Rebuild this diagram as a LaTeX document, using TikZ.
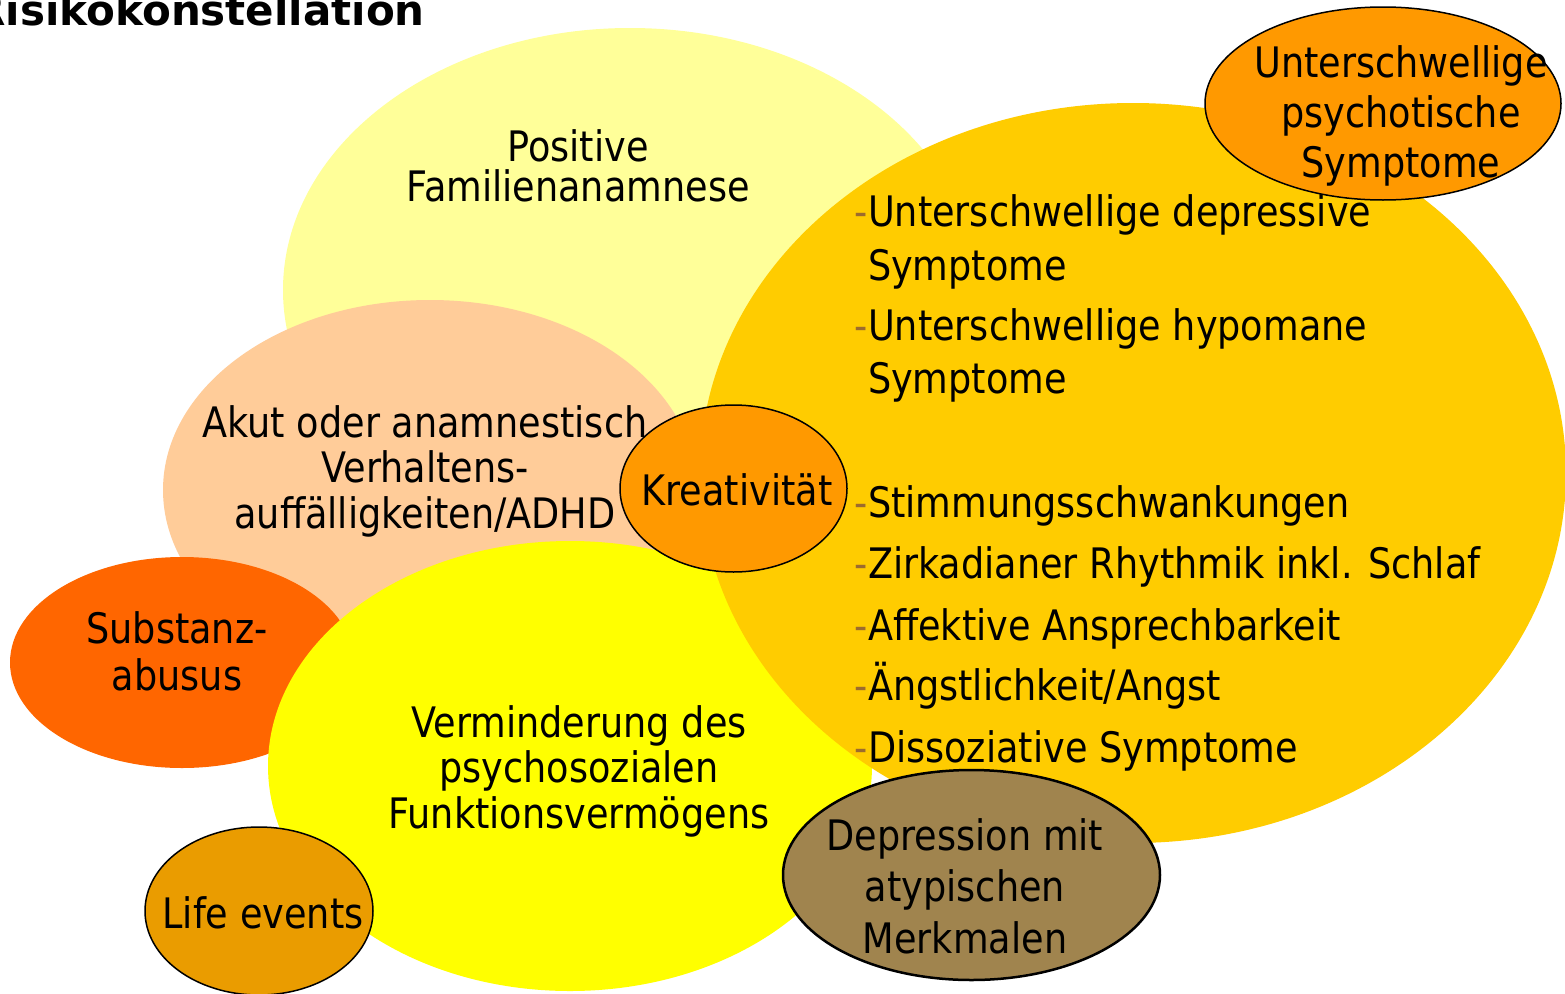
\documentclass[tikz,border=0pt]{standalone}
\usepackage{fontspec}
\setmainfont{DejaVu Sans}[FakeStretch=0.872]
\newfontfamily\titlefont{DejaVu Sans}[FakeStretch=1.0]
\usetikzlibrary{shapes.geometric}
\definecolor{paleyellow}{HTML}{FFFF99}
\definecolor{peach}{HTML}{FFCC99}
\definecolor{gold}{HTML}{FFCC00}
\definecolor{orangeA}{HTML}{FF9900}
\definecolor{substanz}{HTML}{FF6600}
\definecolor{brightyellow}{HTML}{FFFF00}
\definecolor{depbrown}{HTML}{A0844E}
\definecolor{lifeorange}{HTML}{EA9C00}
\definecolor{dashbrown}{HTML}{9C6B2E}
\begin{document}
\begin{tikzpicture}[x=1pt,y=-1pt,
  blob/.style={ellipse, inner sep=0pt, outer sep=0pt},
  edged/.style={blob, draw=black, line width=1.5pt},
  txt/.style={inner sep=0pt, outer sep=0pt, align=center, anchor=base, text=black,
              font=\fontsize{42}{45.5}\selectfont},
  listtxt/.style={inner sep=0pt, outer sep=0pt, align=left, anchor=base west, text=black,
              font=\fontsize{42}{53.5}\selectfont},
  dashtxt/.style={inner sep=0pt, outer sep=0pt, anchor=base east, text=dashbrown,
              font=\fontsize{42}{53.5}\selectfont}]
\useasboundingbox (0,0) rectangle (1565,993);
\fill[white] (0,0) rectangle (1565,993);

% shapes, back to front
\node[blob, fill=paleyellow, minimum width=694pt, minimum height=524pt] (famE) at (630,290) {};
\node[blob, fill=peach, minimum width=534pt, minimum height=380pt] (akutE) at (430,490) {};
\node[blob, fill=substanz, minimum width=344pt, minimum height=211pt] (subE) at (182,662.5) {};
\node[blob, fill=brightyellow, minimum width=604pt, minimum height=450pt] (verE) at (570,766) {};
\node[blob, fill=gold, minimum width=866pt, minimum height=740pt] (goldE) at (1133,473) {};
\node[edged, fill=orangeA, minimum width=227pt, minimum height=167pt] (kreaE) at (733.5,488.5) {};
\node[edged, fill=orangeA, minimum width=356pt, minimum height=193pt] (psyE) at (1383,103.5) {};
\node[blob, draw=black, line width=2.5pt, fill=depbrown, minimum width=377pt, minimum height=210pt] (depE) at (971.5,875) {};
\node[edged, fill=lifeorange, minimum width=228pt, minimum height=168pt] (lifeE) at (259,911) {};

% title
\node[inner sep=0pt, anchor=base east, font=\titlefont\bfseries\fontsize{42}{48}\selectfont] (title) at (425,25) {Risikokonstellation};

% texts (anchor base = baseline of the last line)
\node[txt, font=\fontsize{42}{40}\selectfont] (famT) at (578,201) {Positive\\Familienanamnese};
\node[txt] (akutT) at (425,528) {Akut oder anamnestisch\\Verhaltens-\\auffälligkeiten/ADHD};
\node[txt, font=\fontsize{42}{47}\selectfont] (subT) at (177,690) {Substanz-\\abusus};
\node[txt] (verT) at (579,828) {Verminderung des\\psychosozialen\\Funktionsvermögens};
\node[txt] (kreaT) at (737,505) {Kreativität};
\node[txt, font=\fontsize{42}{50}\selectfont] (psyT) at (1401,177) {Unterschwellige\\psychotische\\Symptome};
\node[txt, font=\fontsize{42}{51.5}\selectfont] (depT) at (965,953) {Depression mit\\atypischen\\Merkmalen};
\node[txt] (lifeT) at (263,928) {Life events};

% list
\node[dashtxt] (d1) at (868,226) {-};
\node[listtxt, font=\fontsize{42}{54}\selectfont] (l1) at (868,280) {Unterschwellige depressive\\Symptome};
\node[dashtxt] (d2) at (868,340) {-};
\node[listtxt, font=\fontsize{42}{53}\selectfont] (l2) at (868,393) {Unterschwellige hypomane\\Symptome};
\node[dashtxt] (d3) at (868,517) {-};
\node[listtxt] (l3) at (868,517) {Stimmungsschwankungen};
\node[dashtxt] (d4) at (868,578) {-};
\node[listtxt] (l4) at (868,578) {Zirkadianer Rhythmik inkl. Schlaf};
\node[dashtxt] (d5) at (868,640) {-};
\node[listtxt] (l5) at (868,640) {Affektive Ansprechbarkeit};
\node[dashtxt] (d6) at (868,700) {-};
\node[listtxt] (l6) at (868,700) {Ängstlichkeit/Angst};
\node[dashtxt] (d7) at (868,762) {-};
\node[listtxt] (l7) at (868,762) {Dissoziative Symptome};
\end{tikzpicture}
\end{document}
